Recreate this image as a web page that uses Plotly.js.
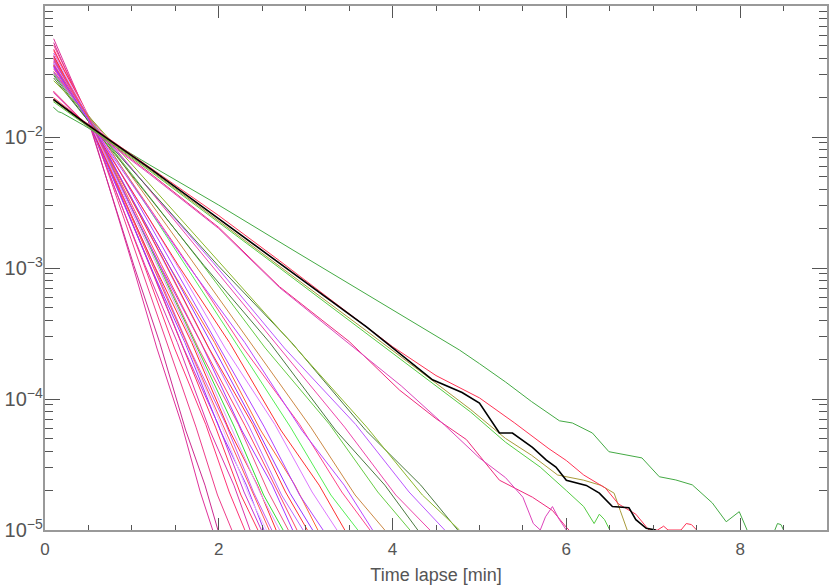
<!DOCTYPE html>
<html>
<head>
<meta charset="utf-8">
<script src="https://cdn.plot.ly/plotly-3.0.1.min.js"></script>
<style>html,body{margin:0;padding:0;background:#fff;}#chart{width:830px;height:588px;}</style>
</head>
<body>
<div id="chart"></div>
<script>
// Fan of steep decays (time in min, normalised density)
const fanX = [
  [0.1,0.5,1.0,1.287,1.573,1.787,1.93],
  [0.1,0.5,1.022,1.320,1.618,1.841,1.99],
  [0.1,0.5,1.078,1.408,1.738,1.985,2.15],
  [0.1,0.5,1.13,1.49,1.85,2.12,2.30],
  [0.1,0.5,1.151,1.523,1.895,2.174,2.36],
  [0.1,0.5,1.183,1.573,1.963,2.255,2.45],
  [0.1,0.5,1.197,1.595,1.993,2.291,2.49],
  [0.1,0.5,1.207,1.611,2.015,2.318,2.52],
  [0.1,0.5,1.218,1.628,2.038,2.345,2.55],
  [0.1,0.5,1.239,1.661,2.083,2.399,2.61],
  [0.1,0.5,1.256,1.688,2.12,2.444,2.66],
  [0.1,0.5,1.284,1.732,2.18,2.516,2.74],
  [0.1,0.5,1.305,1.765,2.225,2.57,2.80],
  [0.1,0.5,1.323,1.793,2.263,2.615,2.85],
  [0.1,0.5,1.365,1.859,2.353,2.723,2.97],
  [0.1,0.5,1.382,1.886,2.39,2.768,3.02],
  [0.1,0.5,1.424,1.952,2.48,2.876,3.14],
  [0.1,0.5,1.445,1.985,2.525,2.93,3.20],
  [0.1,0.5,1.501,2.073,2.645,3.074,3.36],
  [0.1,0.5,1.533,2.123,2.713,3.155,3.45],
  [0.1,0.5,1.585,2.205,2.825,3.29,3.60],
  [0.1,0.5,1.634,2.282,2.93,3.416,3.74],
  [0.1,0.5,1.645,2.299,2.953,3.443,3.77],
  [0.1,0.5,1.694,2.376,3.058,3.569,3.91],
  [0.1,0.5,1.795,2.535,3.275,3.83,4.20],
  [0.1,0.5,1.827,2.585,3.343,3.911,4.29],
  [0.1,0.5,1.876,2.662,3.448,4.037,4.43],
  [0.1,0.5,1.935,2.755,3.575,4.19,4.60],
  [0.1,0.5,1.988,2.838,3.688,4.325,4.75],
  [0.1,0.5,1.995,2.849,3.703,4.343,4.77],
  [0.1,0.5,1.228,1.644,2.06,2.372,2.58],
  [0.1,0.5,1.27,1.71,2.15,2.48,2.70],
  [0.1,0.5,1.34,1.82,2.30,2.66,2.90],
  [0.1,0.5,1.403,1.919,2.435,2.822,3.08]
];
const fanY = [
  [0.0562,0.0138,1.10e-3,2.45e-4,6.4e-5,1.95e-5,1e-5],
  [0.0525,0.0132,1.05e-3,2.70e-4,5.8e-5,2.2e-5,1e-5],
  [0.0501,0.0145,1.13e-3,2.60e-4,6.1e-5,1.85e-5,1e-5],
  [0.0468,0.0138,1.10e-3,2.45e-4,6.4e-5,1.95e-5,1e-5],
  [0.0398,0.0132,1.05e-3,2.70e-4,5.8e-5,2.2e-5,1e-5],
  [0.0457,0.0145,1.13e-3,2.60e-4,6.1e-5,1.85e-5,1e-5],
  [0.0437,0.0138,1.10e-3,2.45e-4,6.4e-5,1.95e-5,1e-5],
  [0.0417,0.0132,1.05e-3,2.70e-4,5.8e-5,2.2e-5,1e-5],
  [0.0427,0.0145,1.13e-3,2.60e-4,6.1e-5,1.85e-5,1e-5],
  [0.0407,0.0138,1.10e-3,2.45e-4,6.4e-5,1.95e-5,1e-5],
  [0.0417,0.0132,1.05e-3,2.70e-4,5.8e-5,2.2e-5,1e-5],
  [0.0355,0.0145,1.13e-3,2.60e-4,6.1e-5,1.85e-5,1e-5],
  [0.0380,0.0138,1.10e-3,2.45e-4,6.4e-5,1.95e-5,1e-5],
  [0.0389,0.0132,1.05e-3,2.70e-4,5.8e-5,2.2e-5,1e-5],
  [0.0363,0.0145,1.13e-3,2.60e-4,6.1e-5,1.85e-5,1e-5],
  [0.0372,0.0138,1.10e-3,2.45e-4,6.4e-5,1.95e-5,1e-5],
  [0.0355,0.0132,1.05e-3,2.70e-4,5.8e-5,2.2e-5,1e-5],
  [0.0363,0.0145,1.13e-3,2.60e-4,6.1e-5,1.85e-5,1e-5],
  [0.0339,0.0138,1.10e-3,2.45e-4,6.4e-5,1.95e-5,1e-5],
  [0.0347,0.0132,1.05e-3,2.70e-4,5.8e-5,2.2e-5,1e-5],
  [0.0316,0.0145,1.13e-3,2.60e-4,6.1e-5,1.85e-5,1e-5],
  [0.0331,0.0138,1.10e-3,2.45e-4,6.4e-5,1.95e-5,1e-5],
  [0.0339,0.0132,1.05e-3,2.70e-4,5.8e-5,2.2e-5,1e-5],
  [0.0309,0.0145,1.13e-3,2.60e-4,6.1e-5,1.85e-5,1e-5],
  [0.0302,0.0138,1.10e-3,2.45e-4,6.4e-5,1.95e-5,1e-5],
  [0.0295,0.0132,1.05e-3,2.70e-4,5.8e-5,2.2e-5,1e-5],
  [0.0316,0.0145,1.13e-3,2.60e-4,6.1e-5,1.85e-5,1e-5],
  [0.0309,0.0138,1.10e-3,2.45e-4,6.4e-5,1.95e-5,1e-5],
  [0.0282,0.0132,1.05e-3,2.70e-4,5.8e-5,2.2e-5,1e-5],
  [0.0269,0.0145,1.13e-3,2.60e-4,6.1e-5,1.85e-5,1e-5],
  [0.0398,0.0140,1.08e-3,2.55e-4,6.2e-5,2.05e-5,1e-5],
  [0.0372,0.0135,1.12e-3,2.65e-4,5.9e-5,1.9e-5,1e-5],
  [0.0355,0.0142,1.06e-3,2.50e-4,6.3e-5,2.1e-5,1e-5],
  [0.0347,0.0136,1.11e-3,2.62e-4,6.0e-5,1.9e-5,1e-5]
];
const fanColors = ['#e0309a','#cc2a90','#ee3d8a','#ff3377','#dd33aa','#ff3355','#cc33cc','#9933ff','#e8c0ff','#c855f0',
  '#ff2a2a','#33dd33','#f05080','#aa33ff','#bb66ff','#ff3333','#ff6633','#b040ff','#dd77ff','#ff3030',
  '#55ee55','#ff4488','#bb44ff','#cc8844','#66cc44','#4a7a40','#ee44aa','#bb55ff','#4a7a40','#8ab82a',
  '#ff5555','#dd99ff','#ff4466','#9933ff'];

// Two pink slow decays
const pinkAX = [0.096,0.5,1.207,2.0,2.7,3.5,4.08,4.5,4.85,5.23,5.61,5.84,6.0,6.03];
const pinkAY = [0.02244,0.01202,5.31e-3,2.04e-3,7.19e-4,2.75e-4,1.17e-4,7.08e-5,4.9e-5,2.4e-5,1.78e-5,1.41e-5,1.05e-5,1e-5];
const pinkBX = [0.096,0.5,1.207,2.0,2.7,3.5,4.1,4.6,5.0,5.3,5.5,5.62,5.7,5.76,5.84,5.92,6.0];
const pinkBY = [0.0219,0.01175,5.19e-3,2.0e-3,7.08e-4,2.63e-4,1.26e-4,6.31e-5,3.55e-5,2.51e-5,1.78e-5,1.12e-5,1e-5,1.26e-5,1.51e-5,1.2e-5,1e-5];

// Cluster around the black curve
const redX = [0.096,0.44,1.207,2.0,2.7,3.4,4.0,4.5,5.0,5.4,5.8,6.0,6.2,6.45,6.6,6.8,6.95,7.05,7.12,7.17,7.32,7.38,7.44,7.5];
const redY = [0.02,0.01334,5.86e-3,2.51e-3,1.135e-3,5.01e-4,2.51e-4,1.51e-4,1.02e-4,6.6e-5,4.17e-5,3.39e-5,2.63e-5,2.09e-5,1.58e-5,1.32e-5,1e-5,1e-5,1.07e-5,1e-5,1e-5,1.12e-5,1.1e-5,1e-5];
const oliveX = [0.096,0.44,1.207,2.7,3.7,4.5,4.9,5.3,5.6,5.9,6.2,6.4,6.55,6.62,6.70];
const oliveY = [0.0191,0.01288,5.62e-3,1.035e-3,3.31e-4,1.32e-4,8.3e-5,5.0e-5,3.72e-5,2.63e-5,2.4e-5,2.19e-5,1.91e-5,1.41e-5,1e-5];
const lgreenX = [0.096,0.44,1.207,2.7,3.7,4.5,4.9,5.3,5.7,6.0,6.2,6.32,6.38,6.44,6.5];
const lgreenY = [0.0186,0.01274,5.5e-3,1.0e-3,3.16e-4,1.26e-4,7.94e-5,4.68e-5,3.02e-5,2.0e-5,1.51e-5,1.12e-5,1.32e-5,1.2e-5,1e-5];
const blackX = [0.096,0.44,1.207,2.70,3.70,4.46,4.80,5.0,5.11,5.23,5.38,5.61,5.77,5.88,6.0,6.11,6.23,6.38,6.53,6.72,6.8,6.92,7.03];
const blackY = [0.0194,0.0131,5.77e-3,1.087e-3,3.55e-4,1.40e-4,1.12e-4,9.3e-5,7.3e-5,5.5e-5,5.5e-5,4.27e-5,3.42e-5,3.02e-5,2.4e-5,2.29e-5,2.19e-5,1.91e-5,1.51e-5,1.48e-5,1.2e-5,1.03e-5,1e-5];

// Slowest green decay
const greenX = [0.096,0.153,0.192,0.44,1.207,2.0,2.854,3.8,4.77,5.0,5.3,5.6,5.92,6.07,6.30,6.49,6.69,6.87,7.07,7.26,7.45,7.68,7.84,7.99,8.08,null,8.40,8.43,8.47,8.50];
const greenY = [0.01687,0.0156,0.01531,0.01236,6.11e-3,3.02e-3,1.371e-3,5.75e-4,2.366e-4,1.862e-4,1.349e-4,9.55e-5,6.82e-5,6.56e-5,5.5e-5,3.96e-5,3.72e-5,3.55e-5,2.55e-5,2.41e-5,2.21e-5,1.61e-5,1.156e-5,1.38e-5,1e-5,null,1e-5,1.12e-5,1.1e-5,1e-5];

const traces = [];
fanX.forEach((xs, i) => traces.push({x: xs, y: fanY[i], mode: 'lines', line: {color: fanColors[i], width: 1}}));
traces.push({x: pinkAX, y: pinkAY, mode: 'lines', line: {color: '#ee2a7b', width: 1}});
traces.push({x: pinkBX, y: pinkBY, mode: 'lines', line: {color: '#dd44bb', width: 1}});
traces.push({x: greenX, y: greenY, mode: 'lines', connectgaps: false, line: {color: '#44aa44', width: 1}});
traces.push({x: lgreenX, y: lgreenY, mode: 'lines', line: {color: '#55cc44', width: 1}});
traces.push({x: oliveX, y: oliveY, mode: 'lines', line: {color: '#a89a3a', width: 1}});
traces.push({x: redX, y: redY, mode: 'lines', line: {color: '#ff3355', width: 1}});
traces.push({x: blackX, y: blackY, mode: 'lines', line: {color: '#000000', width: 1.6}});

const layout = {
  width: 830, height: 588,
  margin: {l: 45, r: 3, t: 6, b: 58},
  paper_bgcolor: '#fff', plot_bgcolor: '#fff',
  showlegend: false,
  xaxis: {
    range: [0, 9], dtick: 2, tick0: 0,
    ticks: 'inside', ticklen: 12, tickcolor: '#555', tickwidth: 1,
    minor: {dtick: 0.5, ticks: 'inside', ticklen: 5, tickcolor: '#555'},
    showline: true, linecolor: '#999', linewidth: 2, mirror: 'ticks',
    showgrid: false, zeroline: false,
    tickfont: {family: 'Liberation Sans', size: 17, color: '#555'},
    ticklabelstandoff: 3,
    title: {text: 'Time lapse [min]', font: {family: 'Liberation Sans', size: 18, color: '#555'}, standoff: 10}
  },
  yaxis: {
    type: 'log', range: [-5, -1], dtick: 1,
    exponentformat: 'power',
    ticks: 'inside', ticklen: 15, tickcolor: '#555', tickwidth: 1,
    minor: {dtick: 'D1', ticks: 'inside', ticklen: 8, tickcolor: '#555'},
    showline: true, linecolor: '#999', linewidth: 2, mirror: 'ticks',
    showgrid: false, zeroline: false,
    tickfont: {family: 'Liberation Sans', size: 16, color: '#555'},
    ticklabelstandoff: -3
  }
};
Plotly.newPlot('chart', traces, layout, {displayModeBar: false, staticPlot: true});
</script>
</body>
</html>
